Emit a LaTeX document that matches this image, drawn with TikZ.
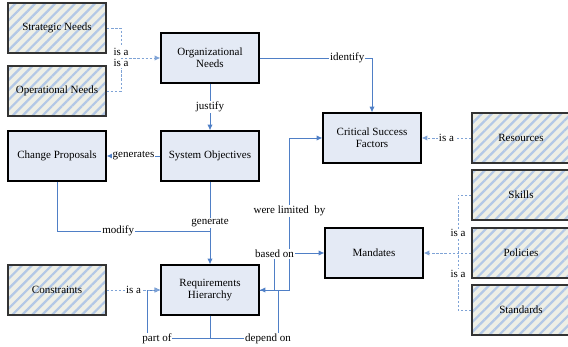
\documentclass[tikz,border=0pt]{standalone}
\usepackage{fontspec}
\setmainfont{Liberation Serif}
\usepackage{tikz}
\usetikzlibrary{arrows.meta,patterns.meta}

\definecolor{boxfill}{HTML}{E4EAF5}
\definecolor{paper}{HTML}{EEEFE6}
\definecolor{hatch}{HTML}{B3C8E6}
\definecolor{linkblue}{HTML}{4F7FC6}
\definecolor{isablue}{HTML}{7FA3D6}

\tikzset{
    concept/.style={draw, line width=0.9pt, fill=boxfill, minimum width=2.94cm, minimum height=1.5cm, align=center, inner sep=1pt},
    kind/.style={draw=black!80, line width=1pt, preaction={fill=paper}, pattern={Lines[angle=45,distance=6pt,line width=1.9pt]}, pattern color=hatch, minimum width=2.94cm, minimum height=1.5cm, align=center, inner sep=1pt},
    link/.style={draw=linkblue, line width=0.8pt, -{Latex[length=5pt,width=4.5pt]}},
    isa/.style={draw=isablue, line width=0.8pt, dash pattern=on 2pt off 1.5pt},
    lbl/.style={fill=white, inner sep=0.8pt, text=black}
}

\begin{document}
\begin{tikzpicture}[x=0.03cm, y=-0.03cm, font=\fontsize{9.4}{10.5}\selectfont]
    \useasboundingbox (0,0) rectangle (568,347);

    \node[kind] (sn) at (57,28) {Strategic Needs};
    \node[kind] (on) at (57,91) {Operational Needs};
    \node[concept] (orgn) at (210,58) {Organizational\\Needs};
    \node[concept] (cp) at (57,156) {Change Proposals};
    \node[concept] (so) at (210,156) {System Objectives};
    \node[concept] (csf) at (372,138) {Critical Success\\Factors};
    \node[kind] (res) at (521,138) {Resources};
    \node[kind] (sk) at (521,195) {Skills};
    \node[kind] (pol) at (521,253) {Policies};
    \node[kind] (std) at (521,310) {Standards};
    \node[concept] (man) at (374,253) {Mandates};
    \node[kind] (con) at (57,290) {Constraints};
    \node[concept] (rh) at (210,290) {Requirements\\Hierarchy};

    \coordinate (j1) at (121,58);
    \coordinate (j2) at (458,253);

    \draw[isa] (sn.east) -| (j1) node[lbl, pos=0.9] {is a};
    \draw[isa] (on.east) -| (j1) node[lbl, pos=0.92] {is a};
    \draw[isa, -{Latex[length=5pt,width=4.5pt]}] (j1) -- (orgn.west);

    \draw[link] (orgn.east) -| (csf.north) node[lbl, pos=0.39] {identify};
    \draw[link] (orgn) -- (so) node[lbl, midway] {justify};
    \draw[link] (so) -- (cp) node[lbl, midway] {generates};
    \draw[link] (so) -- (rh) node[lbl, midway] {generate};
    \draw[draw=linkblue, line width=0.8pt] (cp.south) |- (so.south |- 0,231) node[lbl, pos=0.7] {modify};

    \draw[link] (rh.east) -- ++(30,0) |- (csf.west) node[lbl, pos=0.26] {were limited\enspace by};
    \draw[link] (rh.east) -- ++(15,0) |- (man.west) node[lbl, pos=0.49] {based on};
    \draw[link] (rh.south) -- ++(0,23) -| (278,290) -- (rh.east);
    \draw[link] (rh.south) -- ++(0,23) -| (147,290) -- (rh.west);
    \node[lbl] (dep) at (268,339) {depend on};
    \node[lbl] (part) at (157,339) {part of};

    \draw[isa, -{Latex[length=5pt,width=4.5pt]}] (con) -- (rh) node[lbl, midway] {is a};
    \draw[isa, -{Latex[length=5pt,width=4.5pt]}] (res) -- (csf) node[lbl, midway] {is a};

    \draw[isa] (sk.west) -| (j2) node[lbl, pos=0.83] {is a};
    \draw[isa] (std.west) -| (j2) node[lbl, pos=0.82] {is a};
    \draw[isa, -{Latex[length=5pt,width=4.5pt]}] (pol.west) -- (man.east);
\end{tikzpicture}
\end{document}
